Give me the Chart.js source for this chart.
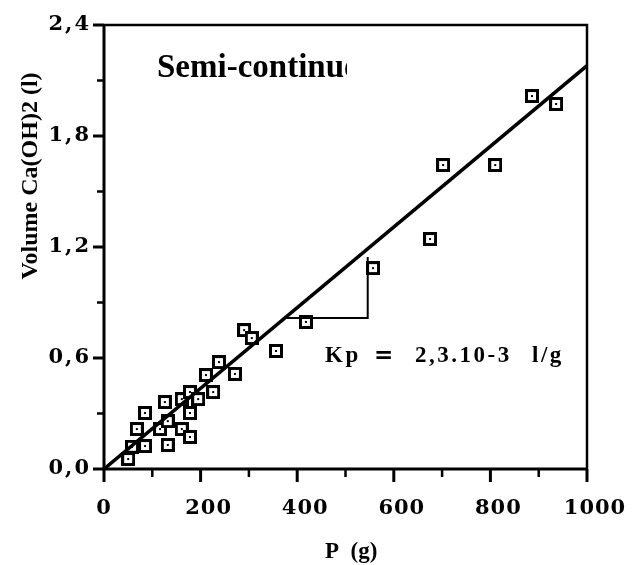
<!DOCTYPE html>
<html>
<head>
<meta charset="utf-8">
<script src="https://cdn.jsdelivr.net/npm/chart.js@4.4.0/dist/chart.umd.min.js"></script>
<style>
  html, body { margin: 0; padding: 0; background: #fff; }
  #wrap { width: 632px; height: 565px; }
</style>
</head>
<body>
<div id="wrap"><canvas id="kpChart" width="632" height="565"></canvas></div>
<script>
// P (g) and Ca(OH)2 volume (l), semi-continuous runs
const massP = [50, 58, 85, 68, 85, 132, 116, 132, 126, 161, 178, 178, 161, 178, 195, 211, 226, 238, 271, 290, 306, 356, 418, 557, 675, 702, 810, 886, 936];
const volume = [0.054, 0.12, 0.124, 0.216, 0.303, 0.13, 0.216, 0.259, 0.362, 0.216, 0.173, 0.303, 0.378, 0.416, 0.378, 0.508, 0.416, 0.578, 0.514, 0.751, 0.708, 0.638, 0.795, 1.086, 1.243, 1.643, 1.643, 2.016, 1.973];

// regression line through the origin
const fitP = [0, 1000];
const fitV = [0, 2.18];

// slope triangle under the line
const triP = [375, 546, 546];
const triV = [0.816, 0.816, 1.146];

// axis ticks
const xMajor = [0, 200, 400, 600, 800, 1000];
const xMinor = [100, 300, 500, 700, 900];
const xTickLabels = ['0', '200', '400', '600', '800', '1000'];
const yMajor = [0, 0.6, 1.2, 1.8, 2.4];
const yMinor = [0.3, 0.9, 1.5, 2.1];
const yTickLabels = ['0,0', '0,6', '1,2', '1,8', '2,4'];

const pts = (xs, ys) => xs.map((v, i) => ({ x: v, y: ys[i] }));

// square marker with a dot in the middle
function makeMarker() {
  const c = document.createElement('canvas');
  c.width = 14; c.height = 14;
  const g = c.getContext('2d');
  g.fillStyle = '#000';
  g.fillRect(0, 0, 14, 14);
  g.fillStyle = '#fff';
  g.fillRect(3, 3, 8, 8);
  g.fillStyle = '#000';
  g.fillRect(6, 6, 2, 2);
  return c;
}

const SERIF = '"Liberation Serif", "Times New Roman", serif';
const TICKFONT = 'bold 21px "DejaVu Serif", serif';

const frame = {
  id: 'frame',
  afterDraw(chart) {
    const { ctx, chartArea: a, scales: { x, y } } = chart;
    ctx.save();
    ctx.strokeStyle = '#000';
    ctx.fillStyle = '#000';

    // top and right borders
    ctx.lineWidth = 2.5;
    ctx.beginPath();
    ctx.moveTo(a.left, a.top);
    ctx.lineTo(a.right, a.top);
    ctx.lineTo(a.right, a.bottom);
    ctx.stroke();

    // left and bottom axes
    ctx.lineWidth = 3;
    ctx.beginPath();
    ctx.moveTo(a.left, a.top - 1);
    ctx.lineTo(a.left, a.bottom);
    ctx.lineTo(a.right + 1, a.bottom);
    ctx.stroke();

    // x ticks
    xMajor.forEach(v => {
      const px = x.getPixelForValue(v);
      ctx.lineWidth = 3;
      ctx.beginPath(); ctx.moveTo(px, a.bottom); ctx.lineTo(px, a.bottom + 13); ctx.stroke();
    });
    xMinor.forEach(v => {
      const px = x.getPixelForValue(v);
      ctx.lineWidth = 2.5;
      ctx.beginPath(); ctx.moveTo(px, a.bottom); ctx.lineTo(px, a.bottom + 8); ctx.stroke();
    });
    // y ticks
    yMajor.forEach(v => {
      const py = y.getPixelForValue(v);
      ctx.lineWidth = 3;
      ctx.beginPath(); ctx.moveTo(a.left - 11, py); ctx.lineTo(a.left, py); ctx.stroke();
    });
    yMinor.forEach(v => {
      const py = y.getPixelForValue(v);
      ctx.lineWidth = 2.5;
      ctx.beginPath(); ctx.moveTo(a.left - 7, py); ctx.lineTo(a.left, py); ctx.stroke();
    });

    // tick labels
    ctx.font = TICKFONT;
    ctx.letterSpacing = '1px';
    ctx.textAlign = 'center';
    ctx.textBaseline = 'middle';
    xMajor.forEach((v, i) => {
      const lbl = xTickLabels[i];
      const px = x.getPixelForValue(v) + (lbl.length > 1 ? 8 : 0);
      ctx.fillText(lbl, px, a.bottom + 40);
    });
    ctx.letterSpacing = '2px';
    ctx.textAlign = 'right';
    yMajor.forEach((v, i) => {
      ctx.fillText(yTickLabels[i], a.left - 13, y.getPixelForValue(v));
    });
    ctx.letterSpacing = '0px';

    // axis titles
    ctx.font = 'bold 23px ' + SERIF;
    ctx.textAlign = 'left';
    ctx.textBaseline = 'alphabetic';
    ctx.fillText('P  (g)', 325, 558);

    ctx.save();
    ctx.translate(31, 176);
    ctx.rotate(-Math.PI / 2);
    ctx.font = 'bold 24px ' + SERIF;
    ctx.textAlign = 'center';
    ctx.textBaseline = 'middle';
    ctx.fillText('Volume Ca(OH)2 (l)', 0, 0);
    ctx.restore();

    // run label, cut off on the right
    ctx.save();
    ctx.beginPath();
    ctx.rect(0, 0, 347, 565);
    ctx.clip();
    ctx.font = 'bold 33px ' + SERIF;
    ctx.fillText('Semi-continue', 157, 77);
    ctx.restore();

    // slope annotation
    ctx.font = 'bold 23px ' + SERIF;
    ctx.letterSpacing = '2.5px';
    ctx.fillText('Kp', 325, 362);
    ctx.fillText('2,3.10-3', 415, 362);
    ctx.fillText('l/g', 532, 362);
    ctx.letterSpacing = '0px';
    ctx.font = 'bold 23px "DejaVu Sans", sans-serif';
    ctx.fillText('=', 374, 362);
    ctx.restore();
  }
};

new Chart(document.getElementById('kpChart'), {
  type: 'scatter',
  data: {
    datasets: [
      {
        label: 'fit',
        data: pts(fitP, fitV),
        showLine: true,
        borderColor: '#000',
        borderWidth: 3.5,
        pointRadius: 0
      },
      {
        label: 'slope',
        data: pts(triP, triV),
        showLine: true,
        borderColor: '#000',
        borderWidth: 2,
        pointRadius: 0
      },
      {
        label: 'Semi-continue',
        data: pts(massP, volume),
        pointStyle: makeMarker(),
        pointRadius: 7
      }
    ]
  },
  options: {
    responsive: false,
    animation: false,
    events: [],
    layout: { padding: { left: 104, right: 45, top: 25, bottom: 96 } },
    plugins: { legend: { display: false }, tooltip: { enabled: false } },
    scales: {
      x: { type: 'linear', min: 0, max: 1000, display: false },
      y: { type: 'linear', min: 0, max: 2.4, display: false }
    }
  },
  plugins: [frame]
});
</script>
</body>
</html>
